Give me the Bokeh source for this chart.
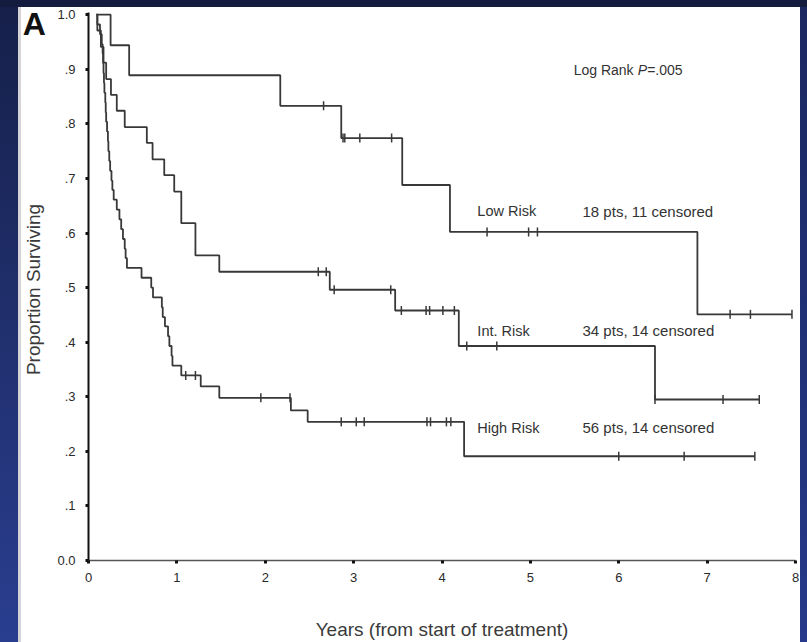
import numpy as np
from bokeh.plotting import figure
from bokeh.models import Label, FixedTicker, Range1d, Div
from bokeh.layouts import row, column
from bokeh.embed import file_html
from bokeh.resources import INLINE

# ---------------- data ----------------
low_t = [0.09, 0.25, 0.46, 2.17, 2.86, 3.55, 4.09, 6.89]
low_s = [1.0, 0.944, 0.889, 0.833, 0.774, 0.688, 0.602, 0.451]
low_end = 7.96
low_cens = [2.66, 2.88, 2.90, 3.07, 3.43, 4.51, 4.98, 5.08, 7.26, 7.49, 7.96]

int_t = [0.09, 0.10, 0.14, 0.17, 0.20, 0.254, 0.32, 0.41, 0.66, 0.725, 0.857,
         0.97, 1.05, 1.21, 1.48, 2.73, 3.47, 4.19, 6.41]
int_s = [1.0, 0.971, 0.941, 0.912, 0.882, 0.853, 0.824, 0.794, 0.765, 0.735, 0.706,
         0.676, 0.618, 0.559, 0.529, 0.496, 0.458, 0.393, 0.295]
int_end = 7.59
int_cens = [2.60, 2.69, 2.78, 3.42, 3.54, 3.82, 3.86, 4.01, 4.14, 4.28, 4.62,
            6.41, 7.18, 7.59]

high_t = [0.09, 0.10, 0.13, 0.15, 0.16, 0.165, 0.17, 0.175, 0.18, 0.19, 0.195,
          0.20, 0.21, 0.22, 0.225, 0.235, 0.245, 0.26, 0.27, 0.285, 0.32, 0.35,
          0.37, 0.39, 0.41, 0.42, 0.435, 0.60, 0.71, 0.73, 0.83, 0.84, 0.865,
          0.90, 0.915, 0.94, 0.95, 1.05, 1.27, 1.48, 2.29, 2.48, 4.25]
high_s = [1.0, 0.982, 0.964, 0.946, 0.929, 0.911, 0.893, 0.875, 0.857, 0.839, 0.821,
          0.804, 0.786, 0.768, 0.750, 0.732, 0.714, 0.696, 0.679, 0.661, 0.643, 0.625,
          0.607, 0.589, 0.571, 0.554, 0.536, 0.518, 0.500, 0.482, 0.464, 0.446, 0.429,
          0.411, 0.393, 0.375, 0.357, 0.339, 0.319, 0.298, 0.275, 0.254, 0.191]
high_end = 7.54
high_cens = [1.10, 1.21, 1.95, 2.28, 2.86, 3.03, 3.12, 3.83, 3.87, 4.05, 4.10,
             6.00, 6.74, 7.54]

y_ticks = [0.0, 0.1, 0.2, 0.3, 0.4, 0.5, 0.6, 0.7, 0.8, 0.9, 1.0]
y_tick_labels = ["0.0", ".1", ".2", ".3", ".4", ".5", ".6", ".7", ".8", ".9", "1.0"]
x_ticks = [0, 1, 2, 3, 4, 5, 6, 7, 8]

group_names = ["Low Risk", "Int. Risk", "High Risk"]
group_notes = ["18 pts, 11 censored", "34 pts, 14 censored", "56 pts, 14 censored"]
group_label_y = [0.640, 0.421, 0.243]

FONT = "Liberation Sans"
LINE = "#383838"
H = 635

# ---------------- main plot ----------------
p = figure(width=750, height=H, output_backend="svg", toolbar_location=None,
           x_range=Range1d(0, 8), y_range=Range1d(0, 1.004),
           min_border_left=38, min_border_right=5, min_border_top=5,
           min_border_bottom=81)
p.xgrid.visible = False
p.ygrid.visible = False
p.outline_line_color = None
p.background_fill_color = "white"
p.border_fill_color = "white"

p.yaxis.ticker = FixedTicker(ticks=y_ticks)
p.yaxis.major_label_overrides = {t: l for t, l in zip(y_ticks, y_tick_labels)}
p.xaxis.ticker = FixedTicker(ticks=x_ticks)
for ax in (p.xaxis, p.yaxis):
    ax.minor_tick_line_color = None
    ax.major_tick_in = 0
    ax.major_tick_out = 3
    ax.major_tick_line_width = 3
    ax.major_tick_line_color = "#111111"
    ax.major_label_text_font = FONT
    ax.major_label_text_font_size = "13px"
    ax.major_label_text_color = "#2a2a2a"
    ax.axis_label_text_font = FONT
    ax.axis_label_text_font_size = "19px"
    ax.axis_label_text_font_style = "normal"
    ax.axis_label_text_color = "#3a3a3a"
p.yaxis.axis_line_width = 2
p.yaxis.axis_line_color = "#111111"
p.xaxis.axis_line_width = 1.5
p.xaxis.axis_line_color = "#555555"
p.yaxis.major_label_standoff = 10
p.xaxis.major_label_standoff = 9
p.xaxis.axis_label = "Years (from start of treatment)"
p.xaxis.axis_label_standoff = 34


def draw(times, surv, end, cens):
    xs = list(times) + [end]
    ys = list(surv) + [surv[-1]]
    p.step(xs, ys, mode="after", line_color=LINE, line_width=1.8)
    cy = [surv[int(np.searchsorted(times, c, side="right")) - 1] for c in cens]
    p.scatter(cens, cy, marker="dash", angle=np.pi / 2, size=9,
              line_color=LINE, line_width=1.5)


draw(low_t, low_s, low_end, low_cens)
draw(int_t, int_s, int_end, int_cens)
draw(high_t, high_s, high_end, high_cens)

for name, note, ly in zip(group_names, group_notes, group_label_y):
    p.add_layout(Label(x=4.40, y=ly, text=name, text_font=FONT, text_font_size="14.5px",
                       text_color="#333333", text_baseline="middle"))
    p.add_layout(Label(x=5.59, y=ly, text=note, text_font=FONT, text_font_size="15px",
                       text_color="#333333", text_baseline="middle"))

p.add_layout(Label(x=5.49, y=0.898, text="Log Rank ", text_font=FONT, text_font_size="14px",
                   text_color="#333333", text_baseline="middle"))
p.add_layout(Label(x=5.49, y=0.898, x_offset=64, text="P", text_font=FONT, text_font_size="14px",
                   text_font_style="italic", text_color="#333333", text_baseline="middle"))
p.add_layout(Label(x=5.49, y=0.898, x_offset=73.5, text="=.005", text_font=FONT,
                   text_font_size="14px", text_color="#333333", text_baseline="middle"))

# ---------------- left text column: panel letter + y-axis title ----------------
side = figure(width=28, height=H, output_backend="svg", toolbar_location=None,
              x_range=Range1d(0, 28), y_range=Range1d(0, H),
              x_axis_type=None, y_axis_type=None,
              min_border_left=0, min_border_right=0, min_border_top=0, min_border_bottom=0)
side.xgrid.visible = False
side.ygrid.visible = False
side.outline_line_color = None
side.border_fill_color = "white"
side.add_layout(Label(x=0.3, y=621.4, text="A", text_font=FONT, text_font_size="32px",
                      text_font_style="bold", text_color="#111111",
                      text_baseline="alphabetic"))
side.add_layout(Label(x=11, y=314, text="Proportion Surviving", text_font=FONT,
                      text_font_size="19px", text_color="#3a3a3a", angle=np.pi / 2,
                      text_align="center", text_baseline="middle"))

# ---------------- frame of the slide ----------------
top_strip = Div(width=807, height=7, margin=0, styles={"background-color": "#131b3e"})
left_strip = Div(width=22, height=H, margin=0,
                 styles={"background": "linear-gradient(to right, rgba(0,0,0,0) 18px, #d4d4d8 18px, #d4d4d8 21px, #ffffff 21px), linear-gradient(#16204a, #2a3e90)"})
right_strip = Div(width=7, height=H, margin=0,
                  styles={"background": "linear-gradient(#1a2760, #26398a)"})

layout = column(top_strip, row(left_strip, side, p, right_strip, spacing=0), spacing=0)

html = file_html(layout, INLINE)
open("out.html", "w").write(html)
